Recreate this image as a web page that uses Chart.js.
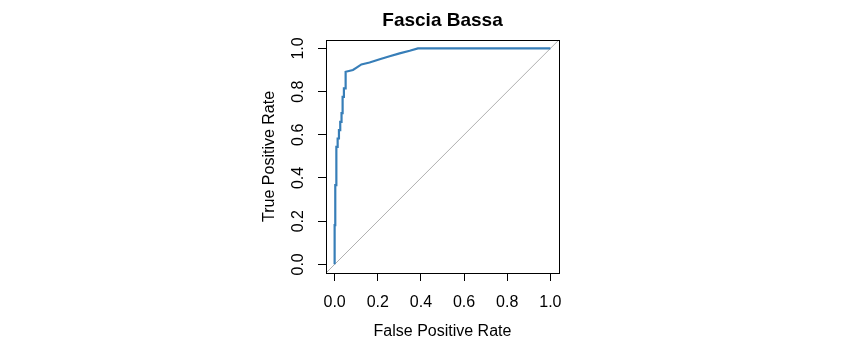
<!DOCTYPE html>
<html>
<head>
<meta charset="utf-8">
<script src="https://cdn.jsdelivr.net/npm/chart.js@4"></script>
<style>
  html, body { margin: 0; padding: 0; background: #fff; }
  #wrap { width: 847px; height: 352px; }
</style>
</head>
<body>
<div id="wrap"><canvas id="rocChart"></canvas></div>
<script>
// ROC curve
var fpr = [0, 0, 0.003, 0.003, 0.008, 0.008, 0.014, 0.014, 0.02, 0.02, 0.026, 0.026,
           0.032, 0.032, 0.037, 0.037, 0.043, 0.043, 0.051, 0.051, 0.085, 0.1, 0.124,
           0.162, 0.209, 0.255, 0.301, 0.348, 0.386, 1.0];
var tpr = [0, 0.182, 0.182, 0.367, 0.367, 0.544, 0.544, 0.583, 0.583, 0.622, 0.622, 0.66,
           0.66, 0.70, 0.70, 0.776, 0.776, 0.815, 0.815, 0.892, 0.90, 0.91, 0.926,
           0.935, 0.95, 0.964, 0.977, 0.989, 1.0, 1.0];
// reference diagonal (abline 0,1) across the whole box
var diagX = [-0.04, 1.04];
var diagY = [-0.04, 1.04];

var titleText = 'Fascia Bassa';
var xTitle = 'False Positive Rate';
var yTitle = 'True Positive Rate';

var fontFamily = '"Liberation Sans", Arial, sans-serif';

function toPoints(xs, ys) {
    return xs.map(function (x, i) { return { x: x, y: ys[i] }; });
}

// draw the box round the plot area like R does
var boxPlugin = {
    id: 'box',
    afterDraw: function (chart) {
        var a = chart.chartArea;
        var c = chart.ctx;
        c.save();
        c.strokeStyle = '#000';
        c.lineWidth = 1;
        c.strokeRect(Math.round(a.left) + 0.5, Math.round(a.top) + 0.5,
                     Math.round(a.right - a.left), Math.round(a.bottom - a.top));
        c.restore();
    }
};

var ctx = document.getElementById('rocChart');

new Chart(ctx, {
    type: 'scatter',
    data: {
        datasets: [{
            data: toPoints(diagX, diagY),
            showLine: true,
            borderColor: '#b0b0b0',
            borderWidth: 1,
            pointRadius: 0,
            order: 2
        }, {
            data: toPoints(fpr, tpr),
            showLine: true,
            borderColor: '#377EB8',
            borderWidth: 2.2,
            pointRadius: 0,
            order: 1
        }]
    },
    options: {
        responsive: true,
        maintainAspectRatio: false,
        animation: false,
        layout: {
            padding: { left: 250, right: 288, top: 0, bottom: 0 }
        },
        scales: {
            x: {
                type: 'linear',
                min: -0.04,
                max: 1.04,
                afterFit: function (scale) { scale.height = 79; },
                grid: { drawOnChartArea: false, drawTicks: true, tickLength: 8, color: '#000' },
                border: { display: false },
                ticks: {
                    stepSize: 0.2,
                    includeBounds: false,
                    padding: 12,
                    color: '#000',
                    font: { family: fontFamily, size: 16 },
                    maxRotation: 0,
                    callback: function (v) { return v.toFixed(1); }
                },
                title: {
                    display: true,
                    text: xTitle,
                    color: '#000',
                    font: { family: fontFamily, size: 16 },
                    padding: { top: 0, bottom: 11 }
                }
            },
            y: {
                type: 'linear',
                min: -0.04,
                max: 1.04,
                afterFit: function (scale) { scale.width = 76; },
                grid: { drawOnChartArea: false, drawTicks: true, tickLength: 8, color: '#000' },
                border: { display: false },
                ticks: {
                    stepSize: 0.2,
                    includeBounds: false,
                    padding: 8,
                    minRotation: 90,
                    maxRotation: 90,
                    crossAlign: 'center',
                    color: '#000',
                    font: { family: fontFamily, size: 16 },
                    callback: function (v) { return v.toFixed(1); }
                },
                title: {
                    display: true,
                    text: yTitle,
                    color: '#000',
                    font: { family: fontFamily, size: 16 },
                    padding: { top: 10, bottom: 0 }
                }
            }
        },
        plugins: {
            legend: { display: false },
            tooltip: { enabled: false },
            title: {
                display: true,
                text: titleText,
                fullSize: false,
                color: '#000',
                font: { family: fontFamily, size: 19, weight: 'bold' },
                padding: { top: 9, bottom: 8 }
            }
        }
    },
    plugins: [boxPlugin]
});
</script>
</body>
</html>
